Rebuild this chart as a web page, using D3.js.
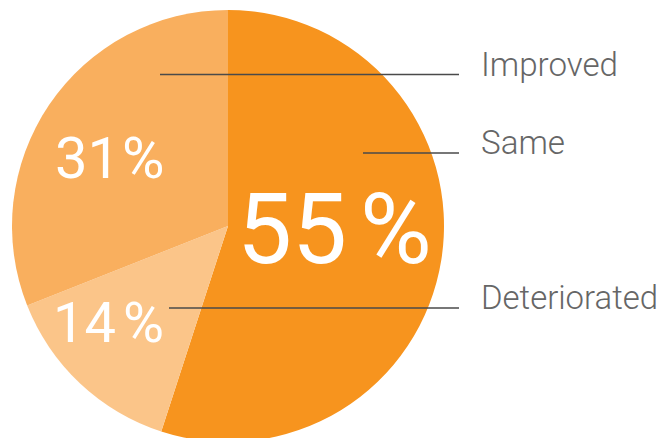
<!DOCTYPE html>
<html>
<head>
<meta charset="utf-8">
<script src="https://cdn.jsdelivr.net/npm/d3@7"></script>
<style>
  html, body { margin: 0; padding: 0; background: #fff; }
  svg { display: block; }
</style>
</head>
<body>
<svg id="chart" width="665" height="438"></svg>
<script>
// Survey outcome shares (percent), drawn clockwise from 12 o'clock
const categories = ["Same", "Deteriorated", "Improved"];
const values = [55, 14, 31];
const sliceColors = ["#F7941E", "#FBC589", "#F9AF5E"];

const svg = d3.select("#chart");
const cx = 228, cy = 226, radius = 216;

const pie = d3.pie().sort(null).value(d => d.value);
const arc = d3.arc().innerRadius(0).outerRadius(radius);
const data = categories.map((c, i) => ({ name: c, value: values[i], color: sliceColors[i] }));
const arcs = pie(data);

const g = svg.append("g").attr("transform", `translate(${cx},${cy})`);

g.selectAll("path.slice")
  .data(arcs)
  .join("path")
  .attr("class", "slice")
  .attr("d", arc)
  .attr("fill", d => d.data.color);

// Percentage labels inside slices: the number, then a spaced-out % sign
const pctStyle = {
  Same:         { x: 237, pctX: 360, y: 263, size: 98 },
  Improved:     { x: 55,  pctX: 122, y: 178, size: 58 },
  Deteriorated: { x: 53,  pctX: 123, y: 342, size: 56 }
};
arcs.forEach(a => {
  const s = pctStyle[a.data.name];
  const t = svg.append("text")
    .attr("y", s.y)
    .attr("font-family", "Roboto, 'Noto Sans', sans-serif")
    .attr("font-weight", 400)
    .attr("font-size", s.size)
    .attr("fill", "#fff");
  t.append("tspan").attr("x", s.x).text(d3.format(".0f")(a.data.value));
  t.append("tspan").attr("x", s.pctX).text("%");
});

// Leader lines and category names
const legend = {
  Improved:     { x1: 160, y: 74.5, ty: 76,  width: 137 },
  Same:         { x1: 363, y: 153,  ty: 154, width: 84 },
  Deteriorated: { x1: 169, y: 308,  ty: 309, width: 177 }
};
arcs.forEach(a => {
  const l = legend[a.data.name];
  svg.append("line")
    .attr("x1", l.x1).attr("x2", 459)
    .attr("y1", l.y).attr("y2", l.y)
    .attr("stroke", "#4a4a4a")
    .attr("stroke-width", 1.5);
  svg.append("text")
    .attr("x", 481)
    .attr("y", l.ty)
    .attr("font-family", "Roboto, 'Noto Sans', sans-serif")
    .attr("font-weight", 300)
    .attr("font-size", 34)
    .attr("fill", "#666")
    .attr("textLength", l.width)
    .attr("lengthAdjust", "spacingAndGlyphs")
    .text(a.data.name);
});
</script>
</body>
</html>
